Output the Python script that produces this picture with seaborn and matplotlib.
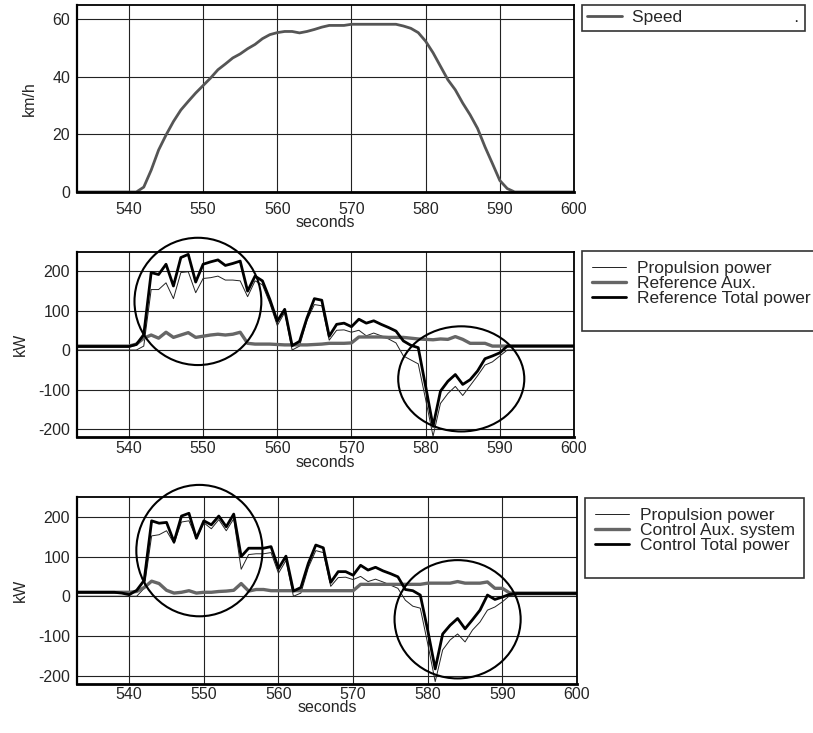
import numpy as np
import pandas as pd
import matplotlib
matplotlib.use("Agg")
import matplotlib.pyplot as plt
from matplotlib.patches import Ellipse
from matplotlib.lines import Line2D
import seaborn as sns

# time axis (s)
t = np.arange(533, 601)

# vehicle speed, km/h
speed = [0, 0, 0, 0, 0, 0, 0, 0, 0,
         1.7, 7.6, 14.6, 19.8, 24.5, 28.5, 31.5, 34.4, 37.0, 39.6,
         42.5, 44.5, 46.6, 48.0, 49.8, 51.3, 53.3, 54.7, 55.4, 55.8,
         55.8, 55.3, 55.8, 56.5, 57.3, 57.9, 57.9, 57.9, 58.3, 58.3,
         58.3, 58.3, 58.3, 58.3, 58.3, 57.7, 56.9, 55.4, 52.4, 48.4,
         43.7, 39.0, 35.5, 30.9, 26.8, 22.1, 15.7, 9.9, 4.0, 1.2,
         0, 0, 0, 0, 0, 0, 0, 0, 0]

# reference strategy, kW
ref_prop = [0, 0, 0, 0, 0, 0, 0, 0, 0,
            10, 153, 153, 170, 130, 196, 198, 145, 181, 183,
            187, 177, 177, 175, 135, 175, 165, 118, 62, 95,
            0, 10, 75, 115, 112, 25, 50, 51, 45, 50,
            36, 43, 36, 28, 18, -15, -25, -35, -125, -218,
            -135, -110, -92, -115, -90, -65, -38, -30, -15, 0,
            0, 0, 0, 0, 0, 0, 0, 0, 0]
ref_aux = [10, 10, 10, 10, 10, 10, 10, 10, 15,
           30, 38, 30, 45, 32, 38, 44, 32, 35, 38,
           40, 38, 40, 45, 17, 15, 15, 15, 14, 13,
           13, 13, 13, 14, 15, 17, 17, 17, 18, 33,
           33, 33, 33, 32, 32, 32, 30, 28, 27, 26,
           28, 27, 34, 27, 17, 17, 17, 10, 10, 10,
           10, 10, 10, 10, 10, 10, 10, 10, 10]
ref_total = [9, 9, 9, 9, 9, 9, 9, 9, 14,
             39, 196, 191, 217, 162, 234, 242, 172, 217, 223,
             228, 214, 219, 225, 149, 187, 175, 128, 73, 103,
             11, 22, 81, 130, 126, 35, 65, 68, 59, 78,
             68, 74, 65, 57, 48, 23, 12, 6, -92, -193,
             -104, -79, -62, -87, -75, -53, -22, -15, -7, 10,
             10, 10, 10, 10, 10, 10, 10, 10, 10]

# control strategy, kW
ctl_prop = [0, 0, 0, 0, 0, 0, 0, 0, 0,
            20, 152, 155, 165, 133, 187, 190, 145, 185, 170,
            193, 165, 195, 68, 105, 107, 107, 110, 58, 90,
            0, 8, 72, 115, 110, 25, 47, 48, 42, 50,
            37, 43, 36, 28, 20, -10, -25, -30, -120, -215,
            -135, -110, -95, -115, -85, -65, -35, -27, -14, 2,
            0, 0, 0, 0, 0, 0, 0, 0, 0]
ctl_aux = [10, 10, 10, 10, 10, 10, 10, 10, 12,
           22, 38, 32, 15, 8, 10, 14, 8, 10, 10,
           12, 13, 15, 32, 13, 17, 17, 14, 14, 14,
           14, 14, 14, 14, 14, 14, 14, 14, 14, 30,
           30, 30, 30, 30, 30, 30, 30, 30, 33, 33,
           33, 33, 37, 33, 33, 33, 36, 20, 20, 8,
           8, 8, 8, 8, 8, 8, 8, 8, 8]
ctl_total = [10, 10, 10, 10, 10, 10, 8, 4, 15,
             40, 190, 184, 186, 137, 202, 209, 146, 190, 180,
             202, 175, 207, 100, 121, 121, 121, 125, 70, 101,
             13, 22, 83, 129, 122, 35, 62, 62, 53, 78,
             66, 73, 64, 57, 49, 17, 14, 3, -86, -183,
             -95, -73, -56, -82, -59, -35, 3, -8, -2, 5,
             7, 7, 7, 7, 7, 7, 7, 7, 7]

sns.set_style("white")
plt.rcParams['font.family'] = ['Liberation Sans', 'DejaVu Sans']
plt.rcParams['font.size'] = 11.5
plt.rcParams['axes.unicode_minus'] = False

W, H = 813, 733
fig = plt.figure(figsize=(W / 100, H / 100), dpi=100)


def box(l, t_, r, b):
    return [l / W, 1 - b / H, (r - l) / W, (b - t_) / H]


ax1 = fig.add_axes(box(77, 5, 574, 192))
ax2 = fig.add_axes(box(77, 252, 574, 437))
ax3 = fig.add_axes(box(77, 497, 577, 684))

thin = dict(color="#222222", linewidth=0.7)
aux = dict(color="#666666", linewidth=2.4)
tot = dict(color="black", linewidth=2.0)

sns.lineplot(x=t, y=speed, ax=ax1, color="#555555", linewidth=2.0,
             label="Speed" + " " * 23 + ".")

sns.lineplot(x=t, y=ref_prop, ax=ax2, label="Propulsion power", **thin)
sns.lineplot(x=t, y=ref_aux, ax=ax2, label="Reference Aux.", **aux)
sns.lineplot(x=t, y=ref_total, ax=ax2, label="Reference Total power", **tot)

sns.lineplot(x=t, y=ctl_prop, ax=ax3, label="Propulsion power", **thin)
sns.lineplot(x=t, y=ctl_aux, ax=ax3, label="Control Aux. system", **aux)
sns.lineplot(x=t, y=ctl_total, ax=ax3, label="Control Total power", **tot)

ax1.set_ylim(0, 65)
ax1.set_yticks([0, 20, 40, 60])
ax1.set_ylabel("km/h")
ax1.yaxis.set_label_coords(-0.08, 0.5)
ax2.set_ylim(-220, 248)
ax3.set_ylim(-221, 250)
for ax in (ax2, ax3):
    ax.set_yticks([-200, -100, 0, 100, 200])
    ax.set_ylabel("kW")
    ax.yaxis.set_label_coords(-0.099, 0.5)

legend_tops = [5, 251, 498]
legend_lefts = [582, 582, 585]
tick_pads = [7, 3, 2]
for ax, top, left, tp in zip((ax1, ax2, ax3), legend_tops, legend_lefts, tick_pads):
    ax.set_xlim(533, 600)
    ax.set_xticks(np.arange(540, 601, 10))
    ax.set_xlabel("seconds", labelpad=-1)
    ax.grid(True, color="#222222", linewidth=0.8)
    ax.tick_params(length=0)
    ax.tick_params(axis="x", pad=tp)
    ax.tick_params(axis="y", pad=5)
    for s in ax.spines.values():
        s.set_visible(True)
        s.set_color("black")
        s.set_linewidth(1.3)
    ax.spines["bottom"].set_linewidth(2)
    ax.spines["left"].set_linewidth(1.6)
    handles, labels = ax.get_legend_handles_labels()
    bp = 0.3
    if ax is not ax1:
        handles.append(Line2D([], [], linestyle="none"))
        labels.append(" ")
        bp = 0.55
    leg = ax.legend(handles, labels, loc="upper left",
                    bbox_to_anchor=(left / W, 1 - top / H),
                    bbox_transform=fig.transFigure, frameon=True, fancybox=False,
                    borderaxespad=0, borderpad=bp, labelspacing=0.0,
                    handlelength=2.0, handletextpad=0.6, fontsize=12.5)
    leg.get_frame().set_edgecolor("black")
    leg.get_frame().set_linewidth(1.2)

# highlight circles
for ax, (cx, cy, w, h) in [(ax2, (549.3, 123, 17.1, 322)),
                           (ax2, (584.8, -73, 17.0, 266)),
                           (ax3, (549.4, 115, 16.9, 331)),
                           (ax3, (584.0, -58, 16.9, 298))]:
    ax.add_patch(Ellipse((cx, cy), w, h, fill=False, edgecolor="black",
                         linewidth=1.5, clip_on=False, zorder=5))

fig.savefig("out.png", dpi=100)
